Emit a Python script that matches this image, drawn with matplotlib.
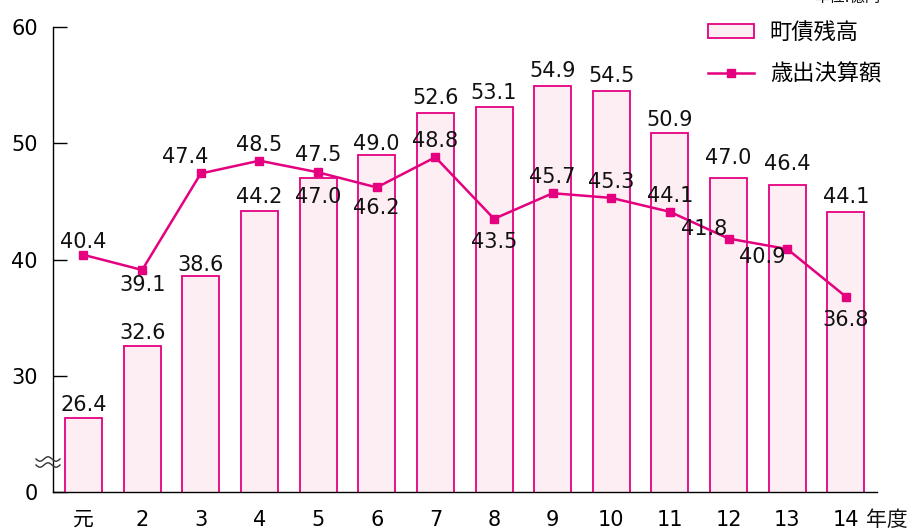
import matplotlib

matplotlib.use("Agg")
import matplotlib.pyplot as plt
import numpy as np
from matplotlib.patches import Patch
from matplotlib.lines import Line2D

plt.rcParams["font.family"] = ["DejaVu Sans", "Noto Sans CJK JP"]

years = ["元", "2", "3", "4", "5", "6", "7", "8", "9", "10", "11", "12", "13", "14"]
debt = [26.4, 32.6, 38.6, 44.2, 47.0, 49.0, 52.6, 53.1, 54.9, 54.5, 50.9, 47.0, 46.4, 44.1]
spending = [40.4, 39.1, 47.4, 48.5, 47.5, 46.2, 48.8, 43.5, 45.7, 45.3, 44.1, 41.8, 40.9, 36.8]

# label offsets in pixels (dx, dy)
debt_offsets = [(0, 13), (0, 13), (0, 11), (0, 14), (0, -19), (0, 11), (0, 15),
                (0, 14), (0, 15), (0, 15), (0, 13), (0, 20), (0, 21), (0, 15)]
spend_offsets = [(0, 13), (0, -15), (-16, 16), (0, 16), (0, 17), (0, -21), (0, 16),
                 (0, -23), (0, 16), (0, 16), (0, 16), (-24, 10), (-25, -8), (0, -23)]

PINK = "#E4007F"
FILL = "#FDEEF3"
FS = 15

fig = plt.figure(figsize=(9.2, 5.3), dpi=100)
ax = fig.add_axes([53 / 920, 38 / 530, 824 / 920, 465 / 530])

x = np.arange(len(years))
ax.bar(x, debt, width=0.63, color=FILL, edgecolor=PINK, linewidth=1.3, zorder=2)
ax.plot(x, spending, color=PINK, lw=1.8, marker="s", markersize=6, zorder=3)

for i, v in enumerate(debt):
    ax.annotate(f"{v:.1f}", xy=(i, v), xytext=debt_offsets[i], textcoords="offset pixels",
                ha="center", va="center", fontsize=FS, color="#111111", zorder=4)
for i, v in enumerate(spending):
    ax.annotate(f"{v:.1f}", xy=(i, v), xytext=spend_offsets[i], textcoords="offset pixels",
                ha="center", va="center", fontsize=FS, color="#111111", zorder=4)

ax.set_xlim(-0.52, 13.53)
ax.set_ylim(20, 60)
ax.set_yticks([20, 30, 40, 50, 60])
ax.set_yticklabels(["0", "30", "40", "50", "60"])
ax.set_xticks(x)
ax.set_xticklabels(years)
ax.tick_params(axis="y", direction="in", length=10, width=1, pad=11, labelsize=FS)
ax.tick_params(axis="x", length=0, pad=13, labelsize=FS)
for s in ["top", "right"]:
    ax.spines[s].set_visible(False)
ax.spines["left"].set_linewidth(1)
ax.spines["bottom"].set_linewidth(1)

ax.annotate("年度", xy=(13, 20), xytext=(20, -28), textcoords="offset pixels",
            ha="left", va="center", fontsize=FS, color="#111111", annotation_clip=False)

# axis break marks
t = np.linspace(0, 1, 40)
for dy in (-3, 3):
    px = 36 + 24 * t
    py = 462 + dy + 2.2 * np.sin(2 * np.pi * t * 1.5)
    fig.add_artist(Line2D(px / 920, 1 - py / 530, color="#333333", lw=1.0))

handles = [
    Patch(facecolor=FILL, edgecolor=PINK, linewidth=1.3),
    Line2D([0], [0], color=PINK, lw=1.8, marker="s", markersize=6),
]
fig.legend(handles, ["町債残高", "歳出決算額"], loc="upper left",
           bbox_to_anchor=(708 / 920, 1 - 22 / 530), frameon=False, fontsize=16,
           handlelength=2.05, handleheight=0.6, handletextpad=0.73, labelspacing=0.9,
           borderpad=0, borderaxespad=0)

fig.text(880 / 920, 1 + 3 / 530, "単位:億円", ha="right", va="center", fontsize=11,
         color="#111111")

fig.savefig("out.png", dpi=100)
